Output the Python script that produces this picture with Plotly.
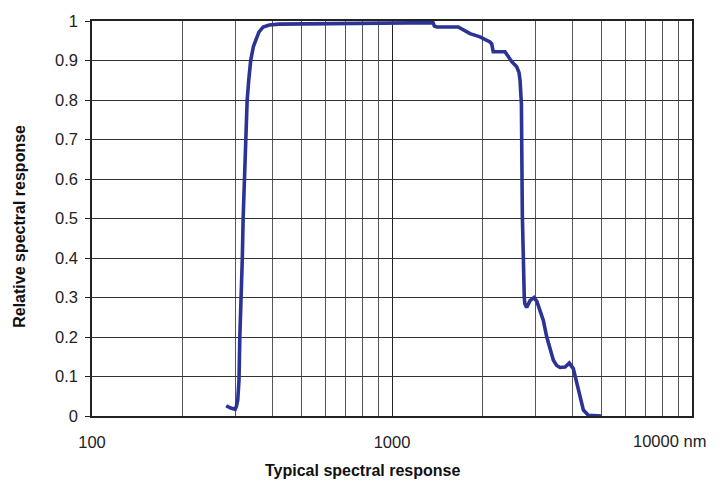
import plotly.graph_objects as go

# Wavelength (nm) and relative spectral response
wavelength = [280, 290, 300, 303, 306, 309, 311, 313, 315, 317, 319, 322, 325, 329, 333, 338,
              345, 352, 360, 372, 390, 420, 600, 1000, 1370, 1385, 1410, 1663, 1729, 1820,
              1965, 2121, 2150, 2175, 2381, 2507, 2605, 2650, 2672, 2680, 2700, 2719, 2740,
              2760, 2773, 2811, 2884, 2974, 3040, 3114, 3195, 3280, 3364, 3451, 3540, 3631,
              3773, 3899, 4021, 4126, 4235, 4345, 4511, 5000]
response = [0.026, 0.02, 0.017, 0.025, 0.04, 0.09, 0.2, 0.25, 0.3, 0.4, 0.5, 0.6, 0.7, 0.8,
            0.85, 0.9, 0.935, 0.955, 0.972, 0.985, 0.99, 0.992, 0.993, 0.996, 0.996, 0.987,
            0.985, 0.985, 0.977, 0.968, 0.96, 0.947, 0.942, 0.922, 0.922, 0.897, 0.884, 0.87,
            0.85, 0.80, 0.79, 0.511, 0.33, 0.30, 0.284, 0.275, 0.292, 0.300, 0.29, 0.267,
            0.242, 0.2, 0.166, 0.141, 0.128, 0.123, 0.124, 0.134, 0.12, 0.082, 0.049, 0.015,
            0.002, 0.0]

x_major_ticks = [100, 1000, 10000]
x_major_labels = ["100", "1000", ""]
x_minor_ticks = [200, 300, 400, 500, 600, 700, 800, 900,
                 2000, 3000, 4000, 5000, 6000, 7000, 8000, 9000]
y_ticks = [0, 0.1, 0.2, 0.3, 0.4, 0.5, 0.6, 0.7, 0.8, 0.9, 1]
y_labels = ["0", "0.1", "0.2", "0.3", "0.4", "0.5", "0.6", "0.7", "0.8", "0.9", "1"]

x_title = "Typical spectral response"
y_title = "Relative spectral response"
last_tick_label = "10000 nm"

tick_font = dict(family="Liberation Sans, Arial, sans-serif", size=16.5, color="#222")
title_font = dict(family="Liberation Sans Narrow, Arial Narrow, Liberation Sans, sans-serif",
                  size=16, color="#111", weight="bold")

fig = go.Figure()
fig.add_trace(go.Scatter(x=wavelength, y=response, mode="lines",
                         line=dict(color="#2B3494", width=3.6), showlegend=False))

fig.update_layout(
    width=723, height=481,
    margin=dict(l=92, r=31, t=19, b=65),
    paper_bgcolor="white", plot_bgcolor="white",
    xaxis=dict(type="log", range=[2, 4], tickvals=x_major_ticks, ticktext=x_major_labels,
               showgrid=True, gridcolor="#222", gridwidth=1,
               minor=dict(tickvals=x_minor_ticks, showgrid=True, gridcolor="#555", gridwidth=1),
               showline=True, linecolor="#222", linewidth=1.5, mirror=True,
               ticks="", tickfont=tick_font, ticklabelstandoff=10, zeroline=False),
    yaxis=dict(range=[0, 1], tickvals=y_ticks, ticktext=y_labels,
               showgrid=True, gridcolor="#333", gridwidth=1,
               showline=True, linecolor="#222", linewidth=1.5, mirror=True,
               ticks="outside", ticklen=5, tickcolor="#222", tickfont=tick_font,
               ticklabelstandoff=4, zeroline=False),
    annotations=[
        dict(text=x_title, xref="paper", yref="paper", x=0.45, y=-0.138,
             xanchor="center", yanchor="middle", showarrow=False, font=title_font),
        dict(text=y_title, xref="paper", yref="paper", x=-0.12, y=0.479, textangle=-90,
             xanchor="center", yanchor="middle", showarrow=False, font=title_font),
        dict(text=last_tick_label, xref="x", yref="paper", x=4, y=-0.063, xshift=16,
             xanchor="right", yanchor="middle", showarrow=False, font=tick_font),
    ],
)

fig.write_html("out.html", config={"displayModeBar": False},
               post_script="document.body.style.margin='0';document.body.style.overflow='hidden';")
